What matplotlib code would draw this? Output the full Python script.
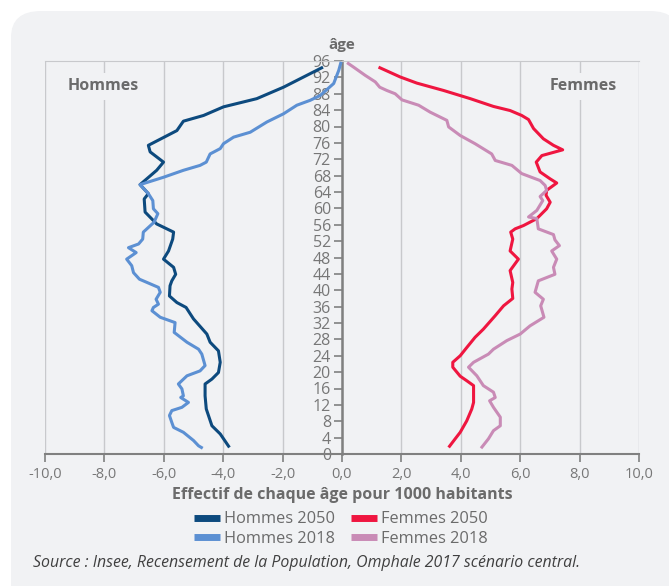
import matplotlib.pyplot as plt
from matplotlib.patches import FancyBboxPatch
from matplotlib.ticker import FuncFormatter, MultipleLocator

plt.rcParams['font.family'] = ['Open Sans', 'DejaVu Sans']

# values (age, effectif pour 1000 habitants)
hommes_2050_age = [1.6, 4.9, 6.9, 11.0, 14.2, 17.1, 18.3, 19.9, 22.4, 25.2, 27.3, 29.3, 33.0,
                   35.8, 37.0, 38.6, 41.1, 42.3, 43.9, 45.6, 47.6, 49.6, 52.5, 54.2, 56.2,
                   59.1, 62.3, 63.6, 65.8, 69.3, 71.3, 73.8, 75.4, 79.0, 81.3, 82.7, 84.8,
                   86.8, 89.6, 94.5]
hommes_2050_val = [-3.79, -4.10, -4.38, -4.57, -4.61, -4.61, -4.38, -4.16, -4.10, -4.16, -4.44,
                   -4.55, -5.00, -5.25, -5.56, -5.81, -5.79, -5.73, -5.60, -5.67, -6.01, -5.84,
                   -5.70, -5.67, -6.24, -6.63, -6.66, -6.52, -6.80, -6.24, -6.01, -6.46, -6.52,
                   -5.56, -5.34, -4.66, -3.99, -2.87, -1.97, -0.64]

hommes_2018_age = [1.4, 2.0, 3.3, 5.3, 6.5, 7.7, 9.4, 10.6, 11.4, 12.6, 13.8, 14.2, 15.9, 17.1,
                   19.1, 20.3, 21.6, 24.4, 25.6, 27.3, 29.7, 32.1, 33.4, 35.0, 35.8, 36.6,
                   37.8, 39.5, 40.7, 42.7, 44.3, 46.0, 47.6, 49.2, 50.4, 51.3, 52.5, 54.2,
                   56.6, 58.7, 59.9, 61.9, 63.6, 65.8, 67.6, 69.3, 70.5, 71.3, 73.3, 74.6,
                   75.8, 77.4, 78.6, 81.1, 83.1, 85.2, 86.4, 87.6, 90.5, 93.7, 95.8]
hommes_2018_val = [-4.69, -4.83, -5.00, -5.34, -5.67, -5.73, -5.81, -5.73, -5.39, -5.17, -5.43,
                   -5.34, -5.39, -5.51, -5.22, -4.78, -4.61, -4.72, -4.83, -5.22, -5.65, -5.62,
                   -6.12, -6.40, -6.35, -6.18, -6.26, -6.12, -6.18, -6.82, -7.02, -7.08, -7.25,
                   -6.93, -7.19, -6.85, -6.71, -6.69, -6.33, -6.20, -6.35, -6.37, -6.52, -6.80,
                   -6.01, -5.34, -4.78, -4.57, -4.44, -4.10, -3.99, -3.65, -3.09, -2.53, -1.97,
                   -1.52, -1.07, -0.73, -0.28, -0.11, -0.03]

femmes_2050_age = [1.6, 3.7, 5.3, 8.1, 11.0, 12.6, 16.7, 17.9, 19.0, 21.2, 22.4, 24.0, 26.0,
                   28.5, 30.5, 33.8, 36.2, 38.0, 40.3, 41.9, 44.8, 47.6, 49.6, 52.5, 54.2,
                   55.0, 55.8, 57.5, 59.9, 61.5, 63.2, 64.4, 66.2, 67.2, 68.9, 71.3, 72.9,
                   74.3, 75.4, 77.0, 79.5, 81.7, 82.7, 83.9, 84.9, 86.8, 88.8, 90.6, 92.1,
                   94.5]
femmes_2050_val = [3.59, 3.81, 3.98, 4.20, 4.37, 4.43, 4.43, 4.20, 3.98, 3.73, 3.73, 3.98, 4.20,
                   4.48, 4.76, 5.16, 5.44, 5.75, 5.72, 5.75, 5.66, 5.94, 5.66, 5.75, 5.68,
                   5.83, 6.11, 6.56, 6.89, 7.01, 6.87, 6.89, 7.23, 7.01, 6.67, 6.54, 6.73,
                   7.43, 7.12, 6.78, 6.45, 6.28, 6.05, 5.66, 5.10, 4.32, 3.42, 2.52, 1.96,
                   1.23]

femmes_2018_age = [1.4, 3.7, 5.7, 6.9, 9.0, 11.4, 13.0, 13.8, 15.1, 16.7, 19.1, 21.2, 22.4,
                   24.4, 25.6, 27.7, 29.3, 31.3, 33.4, 36.2, 37.8, 39.5, 42.3, 43.9, 45.6,
                   47.6, 49.6, 50.9, 52.3, 53.6, 55.0, 57.5, 57.9, 59.5, 61.9, 62.9, 64.4,
                   65.6, 66.8, 68.5, 70.5, 71.7, 73.3, 75.8, 77.8, 79.9, 81.5, 83.5, 85.2,
                   86.5, 88.0, 88.8, 89.6, 90.9, 92.5, 94.5, 95.6]
femmes_2018_val = [4.68, 4.93, 5.10, 5.33, 5.33, 5.10, 4.97, 5.16, 5.10, 4.76, 4.54, 4.26, 4.43,
                   4.93, 5.10, 5.55, 6.00, 6.33, 6.80, 6.69, 6.78, 6.50, 6.61, 7.17, 7.12,
                   7.23, 7.06, 7.32, 7.17, 7.12, 6.61, 6.56, 6.28, 6.56, 6.76, 6.67, 6.89,
                   6.84, 6.67, 6.05, 5.72, 5.16, 5.04, 4.48, 3.98, 3.59, 3.53, 2.97, 2.58,
                   2.02, 1.79, 1.51, 1.27, 1.12, 0.78, 0.39, 0.17]

# legend order: column 1 = Hommes, column 2 = Femmes
series = [
    ("Hommes 2050", hommes_2050_val, hommes_2050_age, "#0d4a7e"),
    ("Hommes 2018", hommes_2018_val, hommes_2018_age, "#5c90d3"),
    ("Femmes 2050", femmes_2050_val, femmes_2050_age, "#ef1640"),
    ("Femmes 2018", femmes_2018_val, femmes_2018_age, "#c98bb6"),
]

bg = "#f1f2f4"
grid_c = "#c8c9cc"
text_c = "#6b6b6b"

fig = plt.figure(figsize=(6.69, 5.86), dpi=100)
fig.patch.set_facecolor("white")
fig.patches.append(FancyBboxPatch((11 / 669, -0.05), 1.0, 1.0 - 11 / 586 + 0.05,
                                  boxstyle="round,pad=0,rounding_size=0.045",
                                  transform=fig.transFigure, facecolor=bg,
                                  edgecolor="none", zorder=-1))

ax = fig.add_axes([45 / 669, 1 - 454 / 586, 594 / 669, 393 / 586])
ax.set_facecolor(bg)

for name, vals, ages, col in series:
    ax.plot(vals, ages, color=col, lw=2.2, label=name, solid_capstyle="butt", zorder=3)

ax.set_xlim(-10, 10)
ax.set_ylim(0, 96)
ax.xaxis.set_major_locator(MultipleLocator(2))
ax.yaxis.set_major_locator(MultipleLocator(4))
ax.xaxis.set_major_formatter(FuncFormatter(lambda v, p: f"{v:.1f}".replace(".", ",")))
ax.grid(axis="x", color=grid_c, lw=1)
ax.set_axisbelow(True)

ax.spines["right"].set_visible(False)
ax.spines["top"].set_color(grid_c)
ax.spines["left"].set_position(("data", 0))
ax.spines["left"].set_color("#808080")
ax.spines["left"].set_linewidth(1.8)
ax.spines["left"].set_zorder(2)
ax.spines["bottom"].set_color("#808080")
ax.spines["bottom"].set_linewidth(1.5)

ax.tick_params(axis="y", length=6, width=1.2, color="#808080", labelcolor="#777777",
               labelsize=11.5, pad=2)
ax.tick_params(axis="x", length=6, width=1.2, color="#808080", labelcolor="#777777",
               labelsize=10.5, pad=3)
for lab in ax.get_yticklabels():
    lab.set_zorder(4)

ax.set_xlabel("Effectif de chaque âge pour 1000 habitants", fontsize=11.5,
              fontweight="bold", color=text_c, labelpad=4)

ax.text(-9.25, 89.8, "Hommes", fontsize=11.5, fontweight="bold", color=text_c,
        va="center", ha="left", zorder=2,
        bbox=dict(facecolor=bg, edgecolor="none", pad=4))
ax.text(9.25, 89.8, "Femmes", fontsize=11.5, fontweight="bold", color=text_c,
        va="center", ha="right", zorder=2,
        bbox=dict(facecolor=bg, edgecolor="none", pad=4))
ax.text(0, 98.2, "âge", fontsize=11, fontweight="bold", color=text_c,
        ha="center", va="bottom")

handles, labels = ax.get_legend_handles_labels()
leg = fig.legend(handles, labels, ncol=2, loc="center",
                 bbox_to_anchor=(341 / 669, 1 - 529 / 586), frameon=False,
                 fontsize=11.8, handlelength=1.55, handletextpad=0.25,
                 columnspacing=1.0, labelspacing=0.2, borderaxespad=0)
for t in leg.get_texts():
    t.set_color(text_c)
for h in leg.legend_handles:
    h.set_linewidth(5)

fig.text(33 / 669, 1 - 563 / 586,
         "Source : Insee, Recensement de la Population, Omphale 2017 scénario central.",
         fontsize=11.4, style="italic", color="#404040", va="center", ha="left")

fig.savefig("out.png", dpi=100, facecolor=fig.get_facecolor())
